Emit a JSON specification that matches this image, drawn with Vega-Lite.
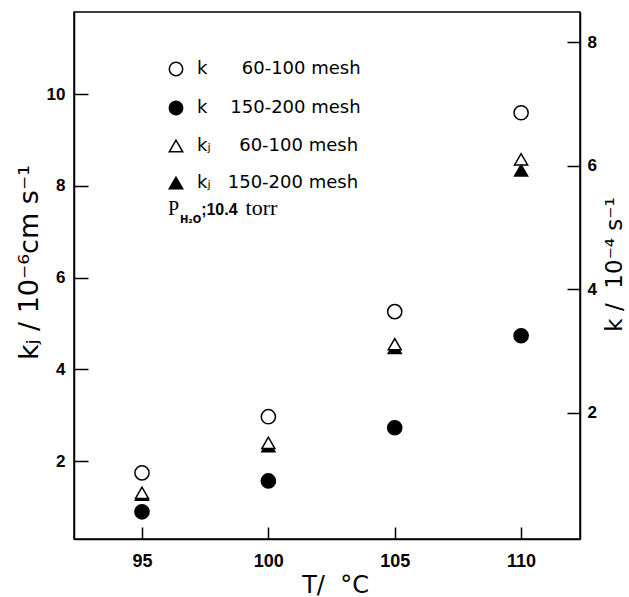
{
"$schema":"https://vega.github.io/schema/vega-lite/v6.json",
"width":506,"height":527,
"autosize":"none",
"padding":{"left":74,"top":12,"right":49,"bottom":58},
"background":"white",
"config":{
 "view":{"stroke":"black","strokeWidth":1.5},
 "axis":{"domainColor":"black","domainWidth":1.5,"tickColor":"black","tickWidth":1.5,"labelColor":"black","titleColor":"black","grid":false,"labelFont":"Liberation Sans","labelFontWeight":"bold","titleFont":"DejaVu Sans","titleFontWeight":"normal"},
 "legend":{"labelFont":"DejaVu Sans","labelFontSize":18,"labelColor":"black","labelLimit":400}
},
"data":{"values":[
 {"T":95,"param":"k","series":"k 60-100","value":1.03},
 {"T":100,"param":"k","series":"k 60-100","value":1.94},
 {"T":105,"param":"k","series":"k 60-100","value":3.64},
 {"T":110,"param":"k","series":"k 60-100","value":6.86},
 {"T":95,"param":"k","series":"k 150-200","value":0.40},
 {"T":100,"param":"k","series":"k 150-200","value":0.90},
 {"T":105,"param":"k","series":"k 150-200","value":1.76},
 {"T":110,"param":"k","series":"k 150-200","value":3.25},
 {"T":95,"param":"kj","series":"kj 150-200","value":1.27},
 {"T":100,"param":"kj","series":"kj 150-200","value":2.33},
 {"T":105,"param":"kj","series":"kj 150-200","value":4.47},
 {"T":110,"param":"kj","series":"kj 150-200","value":8.34},
 {"T":95,"param":"kj","series":"kj 60-100","value":1.31},
 {"T":100,"param":"kj","series":"kj 60-100","value":2.40},
 {"T":105,"param":"kj","series":"kj 60-100","value":4.55},
 {"T":110,"param":"kj","series":"kj 60-100","value":8.58}
]},
"layer":[
 {"transform":[{"filter":"datum.param=='k'"}],
  "mark":{"type":"point","filled":true,"strokeWidth":1.5,"size":200,"opacity":1},
  "encoding":{
   "x":{"field":"T","type":"quantitative","scale":{"domain":[92.31,112.33],"nice":false,"zero":false},
    "axis":{"values":[95,100,105,110],"tickSize":-12,"labelPadding":25,"labelFontSize":18,"title":"T/\u00a0\u00a0°C","titleFontSize":24,"titlePadding":3,"titleX":261}},
   "y":{"field":"value","type":"quantitative","scale":{"domain":[-0.04,8.49],"nice":false,"zero":false},
    "axis":{"orient":"right","values":[2,4,6,8],"tickSize":-13,"labelPadding":20,"labelFontSize":17,"title":"k\u00a0/\u00a0\u00a010⁻⁴\u00a0s⁻¹","titleFontSize":23,"titleAngle":270,"titleBaseline":"top","titlePadding":7,"titleY":252}},
   "shape":{"field":"series","type":"nominal","scale":{"domain":["k 60-100","k 150-200","kj 60-100","kj 150-200"],"range":["circle","circle","triangle-up","triangle-up"]},
    "legend":{"title":null,"orient":"none","legendX":93,"legendY":48,"rowPadding":19,"symbolSize":180,"symbolStrokeWidth":1.5,"labelOffset":12,"labelExpr":"datum.value=='k 60-100' ? 'k\u00a0\u00a0\u00a0\u00a0\u00a0\u00a060-100 mesh' : datum.value=='k 150-200' ? 'k\u00a0\u00a0\u00a0\u00a0150-200 mesh' : datum.value=='kj 60-100' ? 'kⱼ\u00a0\u00a0\u00a0\u00a0\u00a060-100 mesh' : 'kⱼ\u00a0\u00a0\u00a0150-200 mesh'"}},
   "fill":{"field":"series","type":"nominal","scale":{"domain":["k 60-100","k 150-200","kj 60-100","kj 150-200"],"range":["white","black","white","black"]},
    "legend":{"title":null,"orient":"none","legendX":93,"legendY":48,"rowPadding":19,"symbolSize":180,"symbolStrokeWidth":1.5,"labelOffset":12,"labelExpr":"datum.value=='k 60-100' ? 'k\u00a0\u00a0\u00a0\u00a0\u00a0\u00a060-100 mesh' : datum.value=='k 150-200' ? 'k\u00a0\u00a0\u00a0\u00a0150-200 mesh' : datum.value=='kj 60-100' ? 'kⱼ\u00a0\u00a0\u00a0\u00a0\u00a060-100 mesh' : 'kⱼ\u00a0\u00a0\u00a0150-200 mesh'"}},
   "stroke":{"field":"series","type":"nominal","scale":{"domain":["k 60-100","k 150-200","kj 60-100","kj 150-200"],"range":["black","black","black","black"]},
    "legend":{"title":null,"orient":"none","legendX":93,"legendY":48,"rowPadding":19,"symbolSize":180,"symbolStrokeWidth":1.5,"labelOffset":12,"labelExpr":"datum.value=='k 60-100' ? 'k\u00a0\u00a0\u00a0\u00a0\u00a0\u00a060-100 mesh' : datum.value=='k 150-200' ? 'k\u00a0\u00a0\u00a0\u00a0150-200 mesh' : datum.value=='kj 60-100' ? 'kⱼ\u00a0\u00a0\u00a0\u00a0\u00a060-100 mesh' : 'kⱼ\u00a0\u00a0\u00a0150-200 mesh'"}}
  }
 },
 {"layer":[
  {"transform":[{"filter":"datum.param=='kj'"}],
   "mark":{"type":"point","filled":true,"strokeWidth":1.5,"size":170,"opacity":1},
   "encoding":{
    "x":{"field":"T","type":"quantitative","scale":{"domain":[92.31,112.33],"nice":false,"zero":false},
     "axis":{"values":[95,100,105,110],"tickSize":-12,"labelPadding":25,"labelFontSize":18,"title":"T/\u00a0\u00a0°C","titleFontSize":24,"titlePadding":3,"titleX":261}},
    "y":{"field":"value","type":"quantitative","scale":{"domain":[0.305,11.79],"nice":false,"zero":false},
     "axis":{"orient":"left","values":[2,4,6,8,10],"tickSize":-14,"labelPadding":23,"labelFontSize":17,"title":"kⱼ / 10⁻⁶cm s⁻¹","titleFontSize":27,"titlePadding":3,"titleY":250}},
    "shape":{"field":"series","type":"nominal","scale":{"domain":["k 60-100","k 150-200","kj 60-100","kj 150-200"],"range":["circle","circle","triangle-up","triangle-up"]},
     "legend":{"title":null,"orient":"none","legendX":93,"legendY":48,"rowPadding":19,"symbolSize":180,"symbolStrokeWidth":1.5,"labelOffset":12,"labelExpr":"datum.value=='k 60-100' ? 'k\u00a0\u00a0\u00a0\u00a0\u00a0\u00a060-100 mesh' : datum.value=='k 150-200' ? 'k\u00a0\u00a0\u00a0\u00a0150-200 mesh' : datum.value=='kj 60-100' ? 'kⱼ\u00a0\u00a0\u00a0\u00a0\u00a060-100 mesh' : 'kⱼ\u00a0\u00a0\u00a0150-200 mesh'"}},
    "fill":{"field":"series","type":"nominal","scale":{"domain":["k 60-100","k 150-200","kj 60-100","kj 150-200"],"range":["white","black","white","black"]},
     "legend":{"title":null,"orient":"none","legendX":93,"legendY":48,"rowPadding":19,"symbolSize":180,"symbolStrokeWidth":1.5,"labelOffset":12,"labelExpr":"datum.value=='k 60-100' ? 'k\u00a0\u00a0\u00a0\u00a0\u00a0\u00a060-100 mesh' : datum.value=='k 150-200' ? 'k\u00a0\u00a0\u00a0\u00a0150-200 mesh' : datum.value=='kj 60-100' ? 'kⱼ\u00a0\u00a0\u00a0\u00a0\u00a060-100 mesh' : 'kⱼ\u00a0\u00a0\u00a0150-200 mesh'"}},
    "stroke":{"field":"series","type":"nominal","scale":{"domain":["k 60-100","k 150-200","kj 60-100","kj 150-200"],"range":["black","black","black","black"]},
     "legend":{"title":null,"orient":"none","legendX":93,"legendY":48,"rowPadding":19,"symbolSize":180,"symbolStrokeWidth":1.5,"labelOffset":12,"labelExpr":"datum.value=='k 60-100' ? 'k\u00a0\u00a0\u00a0\u00a0\u00a0\u00a060-100 mesh' : datum.value=='k 150-200' ? 'k\u00a0\u00a0\u00a0\u00a0150-200 mesh' : datum.value=='kj 60-100' ? 'kⱼ\u00a0\u00a0\u00a0\u00a0\u00a060-100 mesh' : 'kⱼ\u00a0\u00a0\u00a0150-200 mesh'"}}
   }
  },
  {"data":{"values":[{"note":"P"}]},
   "mark":{"type":"text","text":"P","font":"Liberation Serif","fontSize":20,"align":"left","baseline":"alphabetic","color":"black"},
   "encoding":{"x":{"datum":96.03,"type":"quantitative","title":"T/\u00a0\u00a0°C"},"y":{"datum":7.36,"type":"quantitative","title":"kⱼ / 10⁻⁶cm s⁻¹"}}},
  {"data":{"values":[{"note":"H2O"}]},
   "mark":{"type":"text","text":"H₂O","font":"DejaVu Sans","fontSize":10,"fontWeight":"bold","align":"left","baseline":"alphabetic","color":"black"},
   "encoding":{"x":{"datum":96.5,"type":"quantitative","title":"T/\u00a0\u00a0°C"},"y":{"datum":7.2,"type":"quantitative","title":"kⱼ / 10⁻⁶cm s⁻¹"}}},
  {"data":{"values":[{"note":"value"}]},
   "mark":{"type":"text","text":";10.4","font":"Liberation Sans","fontSize":16,"fontWeight":"bold","align":"left","baseline":"alphabetic","color":"black"},
   "encoding":{"x":{"datum":97.34,"type":"quantitative","title":"T/\u00a0\u00a0°C"},"y":{"datum":7.36,"type":"quantitative","title":"kⱼ / 10⁻⁶cm s⁻¹"}}},
  {"data":{"values":[{"note":"unit"}]},
   "mark":{"type":"text","text":"torr","font":"Liberation Serif","fontSize":22,"align":"left","baseline":"alphabetic","color":"black"},
   "encoding":{"x":{"datum":99.1,"type":"quantitative","title":"T/\u00a0\u00a0°C"},"y":{"datum":7.36,"type":"quantitative","title":"kⱼ / 10⁻⁶cm s⁻¹"}}}
 ]}
],
"resolve":{"scale":{"y":"independent"}}
}
